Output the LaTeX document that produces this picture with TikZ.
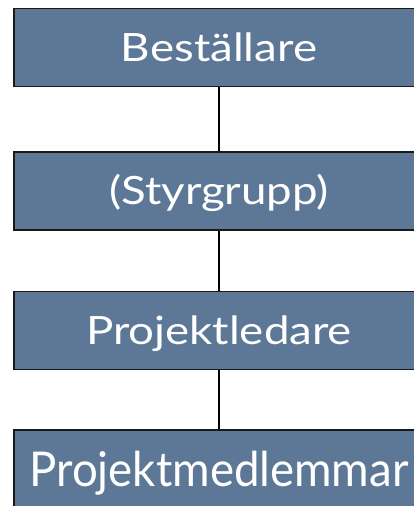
\documentclass[tikz,border=0pt]{standalone}
\usepackage{fontspec}
\newfontfamily\boxfont[FakeStretch=1.17]{Lato}
\newfontfamily\bigboxfont[FakeStretch=0.95]{Lato}
\definecolor{slateblue}{RGB}{93,120,150}

\tikzset{
  orgbox/.style={shape=rectangle, draw=black!90, line width=1.8pt, fill=slateblue,
    text=white, minimum width=410pt, minimum height=78pt, inner sep=0pt,
    text height=27pt, text depth=0pt, font=\boxfont\fontsize{39}{44}\selectfont},
  orgline/.style={draw=black, line width=2.8pt}
}

\begin{document}
\begin{tikzpicture}[x=1pt,y=-1pt]
        \useasboundingbox (0,0) rectangle (414,506);
        \clip (0,0) rectangle (414,506);

        \node[orgbox] (A) at (219,47.5) {Beställare};
        \node[orgbox] (B) at (219,191) {(Styrgrupp)};
        \node[orgbox] (C) at (219,330.5) {Projektledare};
        \node[orgbox, text height=34pt, font=\bigboxfont\fontsize{48}{54}\selectfont] (D) at (219,469) {Projektmedlemmar};

        \path [orgline] (A) -- (B);
        \path [orgline] (B) -- (C);
        \path [orgline] (C) -- (D);
\end{tikzpicture}
\end{document}
